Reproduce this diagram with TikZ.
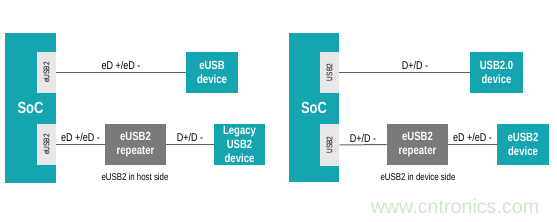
\documentclass[tikz,border=0pt]{standalone}
\usepackage{fontspec}
\setmainfont{Liberation Sans}[FakeStretch=0.8]
\newfontfamily\wmfont{Liberation Sans}
\definecolor{socteal}{HTML}{14A5B1}
\definecolor{portgray}{HTML}{E8E8E8}
\definecolor{repgray}{HTML}{7A7A7A}
\definecolor{wiregray}{HTML}{606060}
\definecolor{wmgreen}{HTML}{CDE8C6}
\begin{document}
\begin{tikzpicture}[x=0.025cm, y=-0.025cm,
	soc/.style = {fill=socteal, text=white, inner sep=0pt, minimum width=1.275cm, minimum height=3.75cm,
		font=\bfseries\fontsize{11.5}{12}\selectfont},
	port/.style = {fill=portgray, inner sep=0pt, minimum width=0.475cm, minimum height=1.025cm,
		font=\fontsize{5.8}{6}\selectfont},
	devbox/.style = {fill=socteal, text=white, inner sep=0pt, minimum height=1.025cm, align=center,
		font=\bfseries\fontsize{8.5}{9.8}\selectfont},
	repbox/.style = {devbox, fill=repgray, minimum width=1.525cm},
	wire/.style = {draw=wiregray, line width=0.7pt},
	sig/.style = {above=1.5pt, inner sep=0pt, font=\fontsize{8}{9}\selectfont},
	caption/.style = {font=\fontsize{7}{8}\selectfont}
]
\useasboundingbox (0,0) rectangle (557,222);

% host side
\node[soc] (soc1) at (30.5,108) {SoC};
\node[port] (p1a) at (46.5,72.5) {\rotatebox{90}{eUSB2}};
\node[port] (p1b) at (46.5,144.5) {\rotatebox{90}{eUSB2}};
\node[devbox, minimum width=1.3cm] (edev) at (212,72.5) {eUSB\\device};
\node[repbox] (rep1) at (135.5,144.5) {eUSB2\\repeater};
\node[devbox, minimum width=1.275cm] (legacy) at (239.5,144.5) {Legacy\\USB2\\device};
\draw[wire] (p1a.east) -- node[sig] {eD +/eD -} (edev.west);
\draw[wire] (p1b.east) -- node[sig] {eD +/eD -} (rep1.west);
\draw[wire] (rep1.east) -- node[sig] {D+/D -} (legacy.west);
\node[caption] (cap1) at (135,177) {eUSB2 in host side};

% device side
\node[soc, minimum width=1.25cm, minimum height=3.725cm] (soc2) at (314,107.5) {SoC};
\node[port] (p2a) at (329.5,72.5) {\rotatebox{90}{USB2}};
\node[port] (p2b) at (329.5,145) {\rotatebox{90}{USB2}};
\node[devbox, minimum width=1.325cm] (udev) at (496.5,72.5) {USB2.0\\device};
\node[repbox] (rep2) at (417.5,144.5) {eUSB2\\repeater};
\node[devbox, minimum width=1.3cm] (edev2) at (523,144.5) {eUSB2\\device};
\draw[wire] (p2a.east) -- node[sig, pos=0.58] {D+/D -} (udev.west);
\draw[wire] (p2b.east) -- node[sig] {D+/D -} (rep2.west);
\draw[wire] (rep2.east) -- node[sig] {eD +/eD -} (edev2.west);
\node[caption] (cap2) at (418,177) {eUSB2 in device side};

\node[text=wmgreen, font=\wmfont\fontsize{14}{15}\selectfont] (wm) at (455,206) {www.cntronics.com};
\end{tikzpicture}
\end{document}
